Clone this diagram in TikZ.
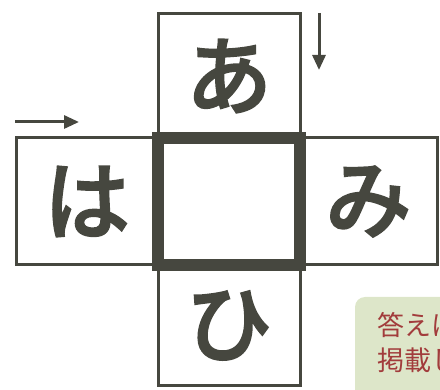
\documentclass[tikz,border=0pt]{standalone}
\usepackage{fontspec}
\newfontfamily\jpfont{Noto Sans CJK JP}
\newfontfamily\jpmedium[RawFeature={embolden=2}]{Noto Sans CJK JP Medium}
\usepackage{tikz}
\usetikzlibrary{arrows.meta,positioning}
\definecolor{ink}{HTML}{46473F}
\definecolor{notegreen}{HTML}{DDE6C9}
\definecolor{notered}{HTML}{A23C3C}
\tikzset{%
  cell/.style={draw=ink,line width=3pt,rectangle,outer sep=0pt,inner sep=0pt,
    minimum width=142pt,minimum height=127pt,text=ink,
    font=\jpmedium\fontsize{86}{86}\selectfont},
  hole/.style={cell,line width=12pt},
  dirarrow/.style={draw=ink,line width=3pt,-{Triangle[length=15pt,width=13pt]}},
  note/.style={text=notered,inner sep=0pt,anchor=base west,
    font=\jpfont\fontsize{27}{27}\selectfont}
}
\begin{document}
\begin{tikzpicture}[x=1pt,y=-1pt]
	\useasboundingbox (0,0) rectangle (440,390);
	\clip (0,0) rectangle (440,390);
	\node[hole] (center) at (229,201.5) {};
	\node[cell,minimum height=124pt,above=0pt of center] (top) {あ};
	\node[cell,left=0pt of center] (left) {は};
	\node[cell,minimum width=137pt,right=0pt of center] (right) {み};
	\node[cell,minimum height=121pt,below=0pt of center] (bottom) {ひ};
	% thick border drawn again over the thin ones
	\node[hole] at (center) {};
	% reading directions
	\coordinate (across-start) at (15,122);
	\coordinate (across-end) at (79,122);
	\coordinate (down-start) at (319,13);
	\coordinate (down-end) at (319,70);
	\draw[dirarrow] (across-start) -- (across-end);
	\draw[dirarrow] (down-start) -- (down-end);
	% answer note
	\fill[notegreen,rounded corners=10pt] (355,297) rectangle (470,420);
	\node[note] (answer1) at (377,336) {答えは};
	\node[note] (answer2) at (377,371) {掲載し};
\end{tikzpicture}
\end{document}
